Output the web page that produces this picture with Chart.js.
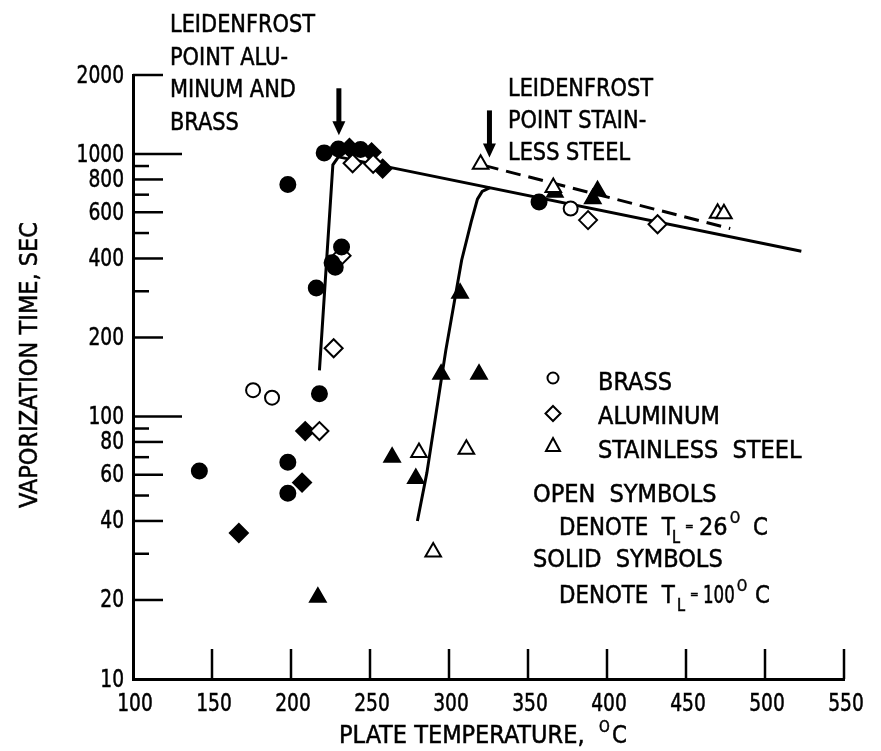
<!DOCTYPE html>
<html>
<head>
<meta charset="utf-8">
<script src="https://cdn.jsdelivr.net/npm/chart.js@4.4.0/dist/chart.umd.min.js"></script>
<style>
  html, body { margin: 0; padding: 0; background: #fff; }
  #wrap { width: 881px; height: 751px; }
</style>
</head>
<body>
<div id="wrap"><canvas id="vapChart" width="881" height="751"></canvas></div>
<script>
const FONT = '"DejaVu Sans Condensed", "Liberation Sans Narrow", "DejaVu Sans", sans-serif';

// [plate temperature C, vaporization time sec]
const brassOpen = [[176, 126], [188, 118], [377, 620]];
const brassSolid = [[142, 62], [198, 67], [198, 51], [218, 122], [216, 309], [226, 385], [228, 370],
  [232, 442], [198, 765], [221, 1010], [230, 1045], [244, 1040], [357, 656]];
const aluminumOpen = [[227, 182], [218, 88], [232, 410], [239, 922], [252, 918], [388, 560], [432, 540]];
const aluminumSolid = [[167, 36], [207, 56], [209, 88], [237, 1055], [251, 1015], [258, 880]];
const steelOpen = [[290, 30.5], [281, 73], [311, 75], [320, 915], [366, 745], [470, 595], [474, 592]];
const steelSolid = [[217, 20.5], [264, 70], [279, 58], [295, 145], [319, 145], [307, 295],
  [367, 715], [391, 675], [394, 725]];

// faired curves
const alBrassRise = [[218, 150], [226.5, 910], [230, 975]];
const filmLine = [[230, 975], [523, 426]];
const steelRise = [[280, 40], [286, 61], [298, 179], [308, 394], [314, 550], [318, 673], [321, 720], [326, 744]];
const steelFilm = [[322, 905], [478, 520]];

// leidenfrost arrows: temperature, top, tip
const arrows = [[230.3, 1780, 1180], [325.6, 1466, 970]];

const xTicks = [100, 150, 200, 250, 300, 350, 400, 450, 500, 550];
const yTicks = [10, 20, 30, 40, 50, 60, 70, 80, 90, 100, 200, 300, 400, 500, 600, 700, 800, 900, 1000, 2000];
const yLabeled = [10, 20, 40, 60, 80, 100, 200, 400, 600, 800, 1000, 2000];

const toXY = pts => pts.map(([x, y]) => ({ x, y }));

function markerSet(pts, style, filled, radius) {
  return {
    data: toXY(pts),
    showLine: false,
    pointStyle: style,
    pointRadius: radius,
    pointHoverRadius: radius,
    backgroundColor: filled ? '#000' : '#fff',
    borderColor: '#000',
    borderWidth: 2,
    order: 1
  };
}

function curveSet(pts, dash) {
  return {
    data: toXY(pts),
    showLine: true,
    pointRadius: 0,
    borderColor: '#000',
    borderWidth: 3,
    borderDash: dash || [],
    fill: false,
    tension: 0,
    order: 2
  };
}

function tickLength(v) {
  if (v === 100 || v === 1000) return 49;
  if (yLabeled.includes(v)) return 30;
  return 16;
}

// lettering is narrower than the installed faces, so squeeze it horizontally
function text(ctx, s, x, y, opts = {}) {
  ctx.save();
  ctx.translate(x, y);
  if (opts.rotate) ctx.rotate(opts.rotate);
  ctx.scale(opts.sx || 1, 1);
  ctx.font = `${opts.size || 25}px ${FONT}`;
  ctx.textAlign = opts.align || 'left';
  ctx.textBaseline = opts.baseline || 'alphabetic';
  ctx.fillText(s, 0, 0);
  ctx.lineWidth = 0.5;
  ctx.strokeText(s, 0, 0);
  ctx.restore();
}

// T_L = 26 deg C style notes, each piece placed at its own x
function pieces(ctx, y, parts) {
  parts.forEach(p => text(ctx, p.t, p.x, y + (p.dy || 0), { size: p.size, sx: p.sx || 0.95 }));
}

const decorations = {
  id: 'decorations',
  afterDraw(chart) {
    const { ctx, chartArea, scales: { x, y } } = chart;
    ctx.save();
    ctx.strokeStyle = '#000';
    ctx.fillStyle = '#000';
    ctx.lineWidth = 2.5;

    // inward tick marks and their labels
    x.ticks.forEach(t => {
      const px = x.getPixelForValue(t.value);
      if (t.value !== x.min) {
        ctx.beginPath();
        ctx.moveTo(px, chartArea.bottom);
        ctx.lineTo(px, chartArea.bottom - 30);
        ctx.stroke();
      }
      text(ctx, String(t.value), px + 2, chartArea.bottom + 25, { align: 'center', baseline: 'middle', sx: 0.83 });
    });
    y.ticks.forEach(t => {
      const py = y.getPixelForValue(t.value);
      if (t.value !== y.min) {
        ctx.lineWidth = 2.5;
        ctx.beginPath();
        ctx.moveTo(chartArea.left, py);
        ctx.lineTo(chartArea.left + tickLength(t.value), py);
        ctx.stroke();
      }
      if (yLabeled.includes(t.value)) {
        text(ctx, String(t.value), chartArea.left - 9, py + 1, { align: 'right', baseline: 'middle', sx: 0.83 });
      }
    });

    // arrows
    arrows.forEach(([tc, top, tip]) => {
      const px = x.getPixelForValue(tc);
      const y0 = y.getPixelForValue(top);
      const y1 = y.getPixelForValue(tip);
      ctx.fillRect(px - 2.5, y0, 5, y1 - y0 - 12);
      ctx.beginPath();
      ctx.moveTo(px - 6.5, y1 - 14);
      ctx.lineTo(px + 6.5, y1 - 14);
      ctx.lineTo(px, y1);
      ctx.closePath();
      ctx.fill();
    });

    // annotations
    ['LEIDENFROST', 'POINT ALU-', 'MINUM AND', 'BRASS'].forEach((s, i) => text(ctx, s, 170, 32 + i * 32.6, { sx: 0.93 }));
    ['LEIDENFROST', 'POINT STAIN-', 'LESS STEEL'].forEach((s, i) => text(ctx, s, 508, 96 + i * 32, { sx: 0.93 }));

    // key
    ctx.lineWidth = 2;
    ctx.beginPath();
    ctx.arc(553, 378, 5.5, 0, Math.PI * 2);
    ctx.stroke();
    ctx.beginPath();
    ctx.moveTo(553, 406); ctx.lineTo(560.5, 413.5); ctx.lineTo(553, 421); ctx.lineTo(545.5, 413.5);
    ctx.closePath();
    ctx.stroke();
    ctx.beginPath();
    ctx.moveTo(553, 438); ctx.lineTo(560, 451); ctx.lineTo(546, 451);
    ctx.closePath();
    ctx.stroke();

    text(ctx, 'BRASS', 598, 390);
    text(ctx, 'ALUMINUM', 598, 424);
    text(ctx, 'STAINLESS  STEEL', 598, 458);
    text(ctx, 'OPEN  SYMBOLS', 533, 502);
    pieces(ctx, 535, [
      { t: 'DENOTE  T', x: 559 }, { t: 'L', x: 672, size: 17, dy: 8 },
      { t: '=', x: 685, size: 12, dy: -5 }, { t: '26', x: 699, sx: 1 },
      { t: 'O', x: 730, size: 15, dy: -12 }, { t: 'C', x: 753 }
    ]);
    text(ctx, 'SOLID  SYMBOLS', 533, 567);
    pieces(ctx, 603, [
      { t: 'DENOTE  T', x: 559 }, { t: 'L', x: 677, size: 17, dy: 8 },
      { t: '=', x: 690, size: 12, dy: -5 }, { t: '100', x: 703, sx: 0.74 },
      { t: 'O', x: 737, size: 15, dy: -12 }, { t: 'C', x: 755 }
    ]);

    // axis titles
    pieces(ctx, 743, [
      { t: 'PLATE TEMPERATURE,', x: 339, sx: 1 }, { t: 'O', x: 599, size: 16, dy: -11 }, { t: 'C', x: 612 }
    ]);
    text(ctx, 'VAPORIZATION TIME, SEC', 37, 222, { rotate: -Math.PI / 2, align: 'right' });

    ctx.restore();
  }
};

Chart.defaults.font.family = FONT;
Chart.defaults.font.size = 25;
Chart.defaults.color = '#000';

new Chart(document.getElementById('vapChart'), {
  type: 'scatter',
  data: {
    datasets: [
      markerSet(brassOpen, 'circle', false, 7),
      markerSet(brassSolid, 'circle', true, 7.5),
      markerSet(aluminumOpen, 'rectRot', false, 9),
      markerSet(aluminumSolid, 'rectRot', true, 9),
      markerSet(steelOpen, 'triangle', false, 9),
      markerSet(steelSolid, 'triangle', true, 9),
      curveSet(alBrassRise),
      curveSet(filmLine),
      curveSet(steelRise),
      curveSet(steelFilm, [15, 8])
    ]
  },
  options: {
    responsive: false,
    animation: false,
    events: [],
    layout: { padding: { top: 75, right: 37, left: 0, bottom: 0 } },
    plugins: { legend: { display: false }, tooltip: { enabled: false } },
    scales: {
      x: {
        type: 'linear',
        min: 100,
        max: 550,
        afterFit: s => { s.height = 72; },
        afterBuildTicks: s => { s.ticks = xTicks.map(v => ({ value: v })); },
        grid: { display: true, drawOnChartArea: false, drawTicks: false, color: 'rgba(0,0,0,0)' },
        border: { display: true, color: '#000', width: 3 },
        ticks: { display: false, autoSkip: false }
      },
      y: {
        type: 'logarithmic',
        min: 10,
        max: 2000,
        afterFit: s => { s.width = 133; },
        afterBuildTicks: s => { s.ticks = yTicks.map(v => ({ value: v })); },
        grid: { display: true, drawOnChartArea: false, drawTicks: false, color: 'rgba(0,0,0,0)' },
        border: { display: true, color: '#000', width: 3 },
        ticks: { display: false, autoSkip: false }
      }
    }
  },
  plugins: [decorations]
});
</script>
</body>
</html>
